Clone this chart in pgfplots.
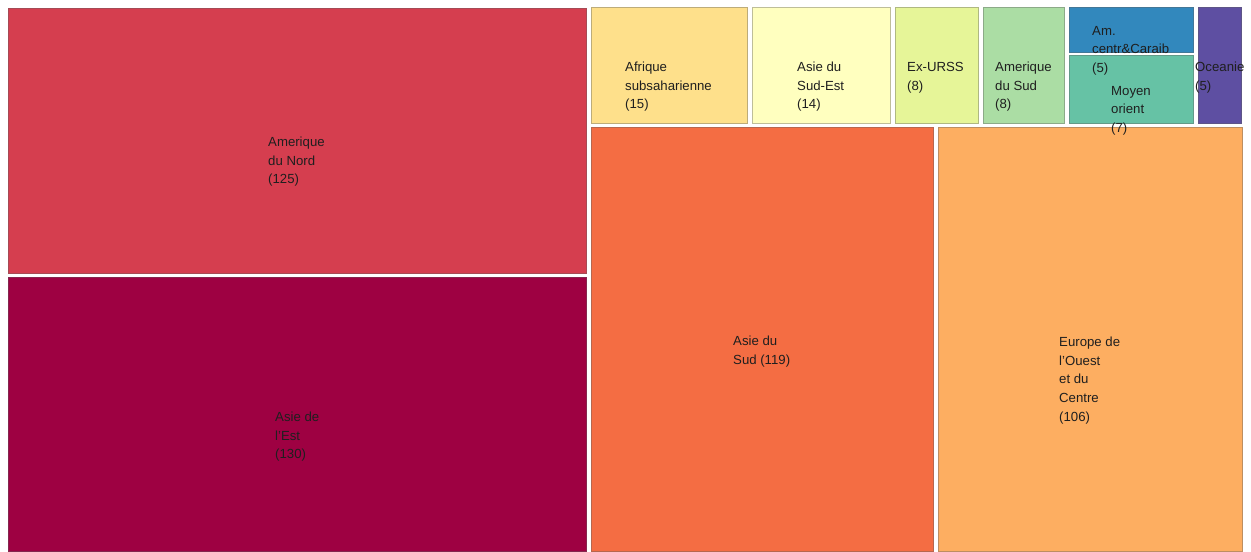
\documentclass[border=0pt]{standalone}
\usepackage{pgfplots}
\pgfplotsset{compat=1.18}
\usepackage{fontspec}
\setmainfont{Liberation Sans}
\definecolor{cAmN}{HTML}{D53E4F}
\definecolor{cAsE}{HTML}{9E0142}
\definecolor{cAsS}{HTML}{F46D43}
\definecolor{cEur}{HTML}{FDAE61}
\definecolor{cAfr}{HTML}{FEE08B}
\definecolor{cASE}{HTML}{FFFFBF}
\definecolor{cURS}{HTML}{E6F598}
\definecolor{cAmS}{HTML}{ABDDA4}
\definecolor{cMO}{HTML}{66C2A5}
\definecolor{cAmC}{HTML}{3288BD}
\definecolor{cOce}{HTML}{5E4FA2}
\tikzset{lbl/.style={anchor=north west, inner sep=0pt, align=left,
    font=\fontsize{13.2bp}{18.6bp}\selectfont, text=black!88}}
\begin{document}
\begin{tikzpicture}
\begin{axis}[
  width=1251bp, height=551bp, scale only axis,
  xmin=0, xmax=1251, ymin=0, ymax=551, y dir=reverse,
  hide axis, clip=false,
  every axis plot/.append style={line width=0.9bp},
]
\path (axis cs:0,0) rectangle (axis cs:1251,551);
% rectangles: corners (x1,y1) (x2,y1) (x2,y2) (x1,y2)
\addplot[fill=cAmN, draw=cAmN!85!black!70!gray] coordinates {(8,8) (586,8) (586,273) (8,273)} -- cycle;
\addplot[fill=cAsE, draw=cAsE!85!black!70!gray] coordinates {(8,277) (586,277) (586,551) (8,551)} -- cycle;
\addplot[fill=cAsS, draw=cAsS!85!black!70!gray] coordinates {(591,127) (933,127) (933,551) (591,551)} -- cycle;
\addplot[fill=cEur, draw=cEur!85!black!70!gray] coordinates {(938,127) (1242,127) (1242,551) (938,551)} -- cycle;
\addplot[fill=cAfr, draw=cAfr!85!black!70!gray] coordinates {(591,7) (747,7) (747,123) (591,123)} -- cycle;
\addplot[fill=cASE, draw=cASE!85!black!70!gray] coordinates {(752,7) (890,7) (890,123) (752,123)} -- cycle;
\addplot[fill=cURS, draw=cURS!85!black!70!gray] coordinates {(895,7) (978,7) (978,123) (895,123)} -- cycle;
\addplot[fill=cAmS, draw=cAmS!85!black!70!gray] coordinates {(983,7) (1064,7) (1064,123) (983,123)} -- cycle;
\addplot[fill=cAmC, draw=cAmC!85!black!70!gray] coordinates {(1069,7) (1193,7) (1193,52) (1069,52)} -- cycle;
\addplot[fill=cMO, draw=cMO!85!black!70!gray] coordinates {(1069,55) (1193,55) (1193,123) (1069,123)} -- cycle;
\addplot[fill=cOce, draw=cOce!85!black!70!gray] coordinates {(1198,7) (1241,7) (1241,123) (1198,123)} -- cycle;
% labels
\node[lbl] at (axis cs:268,137) {Amerique\\du Nord\\(125)};
\node[lbl] at (axis cs:275,412) {Asie de\\l'Est\\(130)};
\node[lbl] at (axis cs:733,336) {Asie du\\Sud (119)};
\node[lbl] at (axis cs:1059,337) {Europe de\\l'Ouest\\et du\\Centre\\(106)};
\node[lbl] at (axis cs:625,62) {Afrique\\subsaharienne\\(15)};
\node[lbl] at (axis cs:797,62) {Asie du\\Sud-Est\\(14)};
\node[lbl] at (axis cs:907,62) {Ex-URSS\\(8)};
\node[lbl] at (axis cs:995,62) {Amerique\\du Sud\\(8)};
\node[lbl] at (axis cs:1092,26) {Am.\\centr\&Caraib\\(5)};
\node[lbl] at (axis cs:1111,86) {Moyen\\orient\\(7)};
\node[lbl] at (axis cs:1195,62) {Oceanie\\(5)};
\end{axis}
\end{tikzpicture}
\end{document}
